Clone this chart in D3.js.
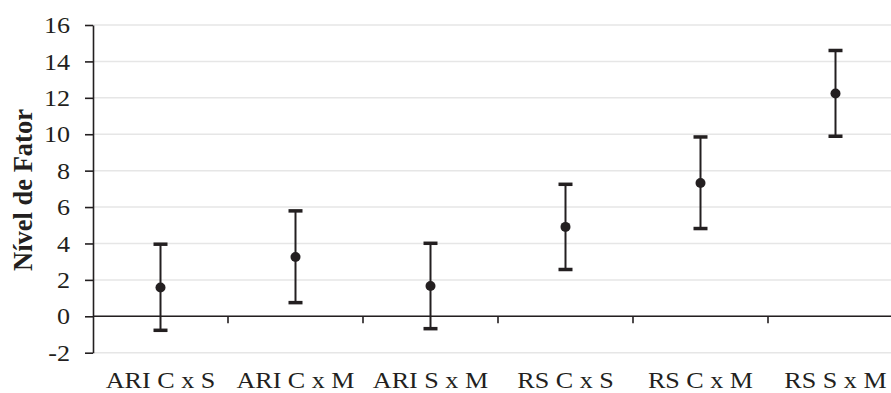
<!DOCTYPE html>
<html>
<head>
<meta charset="utf-8">
<script src="https://cdn.jsdelivr.net/npm/d3@7"></script>
<style>
  body { margin: 0; background: #fff; }
  svg { display: block; font-family: "Liberation Serif", "Times New Roman", serif; }
  .grid line { stroke: #e6e6e6; stroke-width: 1.5; }
  .axis path, .axis line { stroke: #231f20; stroke-width: 1.6; }
  .axis text { fill: #231f20; font-size: 22.5px; font-family: "Liberation Serif", serif; }
  .bar line { stroke: #231f20; }
</style>
</head>
<body>
<div id="graph"></div>
<script>
const categories = ["ARI C x S", "ARI C x M", "ARI S x M", "RS C x S", "RS C x M", "RS S x M"];
const means = [1.58, 3.26, 1.66, 4.91, 7.32, 12.24];
const lower = [-0.77, 0.75, -0.68, 2.57, 4.82, 9.89];
const upper = [3.96, 5.79, 4.01, 7.25, 9.85, 14.6];
const yTicks = [-2, 0, 2, 4, 6, 8, 10, 12, 14, 16];

const width = 891, height = 393;
const plot = { left: 93, right: 903, top: 25, bottom: 352.7 };
const ink = "#231f20";
const stretch = 1.16; // the source font runs wider than Liberation Serif

const svg = d3.select("#graph").append("svg")
  .attr("width", width)
  .attr("height", height);

const x = d3.scaleBand().domain(categories).range([plot.left, plot.right]);
const y = d3.scaleLinear().domain([-2, 16]).range([plot.bottom, plot.top]);

function serif(sel) {
  sel.style("font-family", "'Liberation Serif', serif")
    .style("font-size", "22.5px")
    .style("fill", ink);
}

function widen(sel) {
  sel.each(function () {
    const w = this.getComputedTextLength();
    d3.select(this).attr("textLength", w * stretch).attr("lengthAdjust", "spacingAndGlyphs");
  });
}

// gridlines
svg.append("g").attr("class", "grid")
  .selectAll("line").data(yTicks).join("line")
  .attr("x1", plot.left).attr("x2", plot.right)
  .attr("y1", d => y(d)).attr("y2", d => y(d));

// y axis
const yAxis = svg.append("g").attr("class", "axis")
  .attr("transform", `translate(${plot.left},0)`)
  .call(d3.axisLeft(y).tickValues(yTicks).tickFormat(d => String(d))
    .tickSize(8).tickPadding(15).tickSizeOuter(0));
yAxis.attr("font-family", null).attr("font-size", null);
yAxis.selectAll("text")
  .call(serif)
  .attr("dy", "0.34em")
  .call(widen);

// x axis at zero
const xAxis = svg.append("g").attr("class", "axis")
  .attr("transform", `translate(0,${y(0)})`);
xAxis.append("line")
  .attr("x1", plot.left).attr("x2", plot.right);
xAxis.selectAll(".tick").data(categories.slice(1)).join("line")
  .attr("x1", d => x(d)).attr("x2", d => x(d))
  .attr("y1", 0).attr("y2", 7);

// category labels below the plot
svg.append("g").attr("class", "axis")
  .selectAll("text").data(categories).join("text")
  .attr("x", d => x(d) + x.bandwidth() / 2)
  .attr("y", 388)
  .attr("text-anchor", "middle")
  .text(d => d)
  .call(serif)
  .call(widen);

// axis title
svg.append("text")
  .attr("transform", `translate(32,190) rotate(-90)`)
  .attr("text-anchor", "middle")
  .attr("font-weight", "bold")
  .attr("font-size", 26.5)
  .attr("fill", ink)
  .text("Nível de Fator");

// error bars
const bars = svg.append("g").attr("class", "bar")
  .selectAll("g").data(categories).join("g")
  .attr("transform", d => `translate(${x(d) + x.bandwidth() / 2},0)`);

bars.append("line")
  .attr("y1", (d, i) => y(lower[i])).attr("y2", (d, i) => y(upper[i]))
  .attr("stroke-width", 2);
bars.append("line")
  .attr("x1", -7).attr("x2", 7)
  .attr("y1", (d, i) => y(upper[i])).attr("y2", (d, i) => y(upper[i]))
  .attr("stroke-width", 3.5);
bars.append("line")
  .attr("x1", -7).attr("x2", 7)
  .attr("y1", (d, i) => y(lower[i])).attr("y2", (d, i) => y(lower[i]))
  .attr("stroke-width", 3.5);
bars.append("circle")
  .attr("cy", (d, i) => y(means[i]))
  .attr("r", 5)
  .attr("fill", ink);
</script>
</body>
</html>
